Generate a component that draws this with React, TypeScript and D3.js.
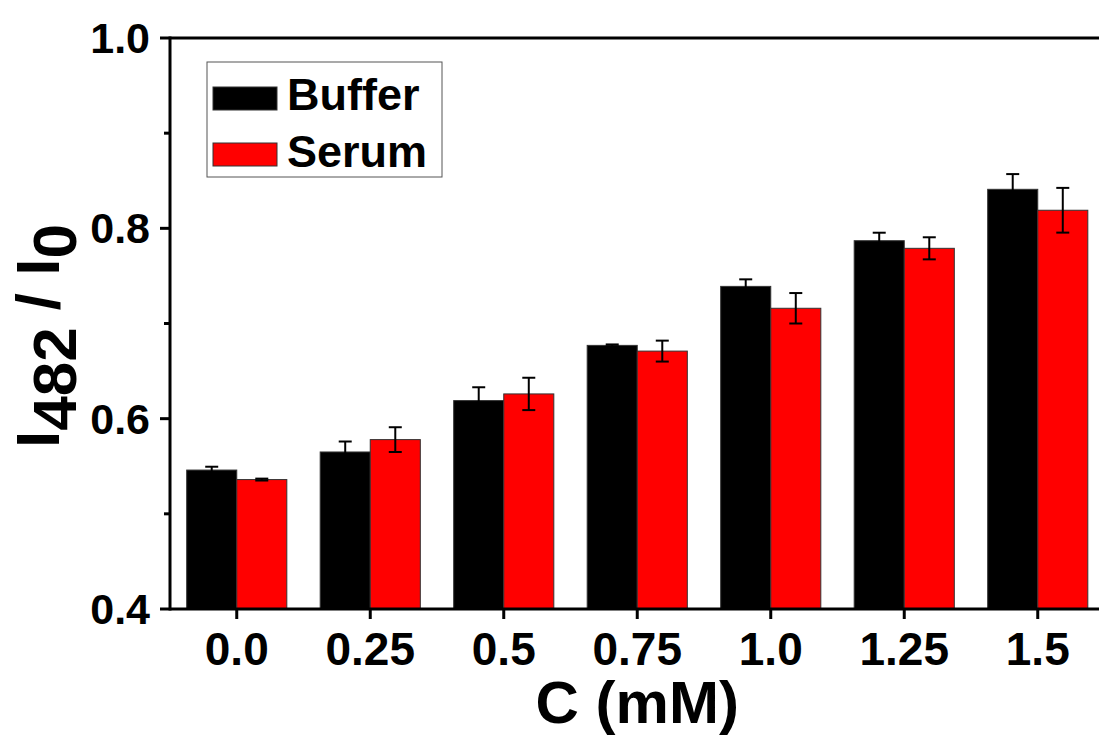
import React from "react";
import * as d3 from "d3";

const categories = ["0.0", "0.25", "0.5", "0.75", "1.0", "1.25", "1.5"];
const series = ["Buffer", "Serum"];
const bufferValues = [0.546, 0.565, 0.619, 0.677, 0.739, 0.787, 0.841];
const bufferErrors = [0.0035, 0.011, 0.014, 0.001, 0.0074, 0.0084, 0.016];
const serumValues = [0.536, 0.578, 0.626, 0.671, 0.716, 0.779, 0.819];
const serumErrors = [0.001, 0.013, 0.017, 0.011, 0.016, 0.0116, 0.0235];
const yMajorTicks = [0.4, 0.6, 0.8, 1.0];
const yMinorTicks = [0.5, 0.7, 0.9];
const colors = ["#000000", "#ff0000"];

const W = 1099;
const H = 736;
const left = 170;
const right = 1104.5;
const top = 38;
const bottom = 609;
const FONT = "'Liberation Sans', Arial, sans-serif";

export default function App() {
  const x = d3.scaleBand<string>().domain(categories).range([left, right]).paddingInner(0.25).paddingOuter(0.125);
  const xs = d3.scaleBand<string>().domain(series).range([0, x.bandwidth()]);
  const y = d3.scaleLinear().domain([0.4, 1.0]).range([bottom, top]);
  const data = [
    { name: series[0], values: bufferValues, errors: bufferErrors, color: colors[0] },
    { name: series[1], values: serumValues, errors: serumErrors, color: colors[1] },
  ];
  const fmt = d3.format(".1f");
  return (
    <svg width={W} height={H} style={{ position: "absolute", left: 0, top: 0, background: "#fff" }} fontFamily={FONT} fontWeight="bold">
      {data.map((s) =>
        categories.map((c, i) => {
          const bx = (x(c) as number) + (xs(s.name) as number);
          const bw = xs.bandwidth();
          const v = s.values[i];
          return (
            <rect key={s.name + c} x={bx} y={y(v)} width={bw} height={bottom - y(v)} fill={s.color} stroke="#333" strokeWidth={1} />
          );
        })
      )}
      {data.map((s) =>
        categories.map((c, i) => {
          const cx = (x(c) as number) + (xs(s.name) as number) + xs.bandwidth() / 2;
          const v = s.values[i];
          const e = s.errors[i];
          const y1 = y(v + e);
          const y0 = y(v - e);
          return (
            <g key={"e" + s.name + c} stroke="#000" strokeWidth={2}>
              <line x1={cx} x2={cx} y1={y1} y2={y0} />
              <line x1={cx - 6.5} x2={cx + 6.5} y1={y1} y2={y1} />
              <line x1={cx - 6.5} x2={cx + 6.5} y1={y0} y2={y0} />
            </g>
          );
        })
      )}
      {/* axes */}
      <line x1={left} x2={W} y1={bottom} y2={bottom} stroke="#000" strokeWidth={3} />
      <line x1={left} x2={W} y1={top} y2={top} stroke="#000" strokeWidth={3} />
      <line x1={left} x2={left} y1={top - 1.5} y2={bottom + 1.5} stroke="#000" strokeWidth={3} />
      {yMajorTicks.map((t) => (
        <g key={"ym" + t}>
          <line x1={left - 10} x2={left} y1={y(t)} y2={y(t)} stroke="#000" strokeWidth={3} />
          <text x={left - 20} y={y(t) + 15} textAnchor="end" fontSize={43}>
            {fmt(t)}
          </text>
        </g>
      ))}
      {yMinorTicks.map((t) => (
        <line key={"yn" + t} x1={left - 6} x2={left} y1={y(t)} y2={y(t)} stroke="#000" strokeWidth={3} />
      ))}
      {categories.map((c) => {
        const cx = (x(c) as number) + x.bandwidth() / 2;
        return (
          <g key={"xt" + c}>
            <line x1={cx} x2={cx} y1={bottom} y2={bottom + 10} stroke="#000" strokeWidth={3} />
            <text x={cx} y={665} textAnchor="middle" fontSize={46}>
              {c}
            </text>
          </g>
        );
      })}
      <text x={(left + right) / 2} y={723} textAnchor="middle" fontSize={60}>
        C (mM)
      </text>
      <text transform={`translate(59,${336}) rotate(-90)`} textAnchor="middle" fontSize={62}>
        I<tspan dy={17}>482</tspan>
        <tspan dy={-17}> / I</tspan>
        <tspan dy={17}>0</tspan>
      </text>
      {/* legend */}
      <rect x={207} y={62} width={235} height={115} fill="#fff" stroke="#555" strokeWidth={1} />
      {data.map((s, i) => (
        <g key={"lg" + s.name}>
          <rect x={213} y={87 + i * 56} width={64} height={23} fill={s.color} stroke="#333" strokeWidth={1} />
          <text x={287} y={110 + i * 57} fontSize={45}>
            {s.name}
          </text>
        </g>
      ))}
    </svg>
  );
}
